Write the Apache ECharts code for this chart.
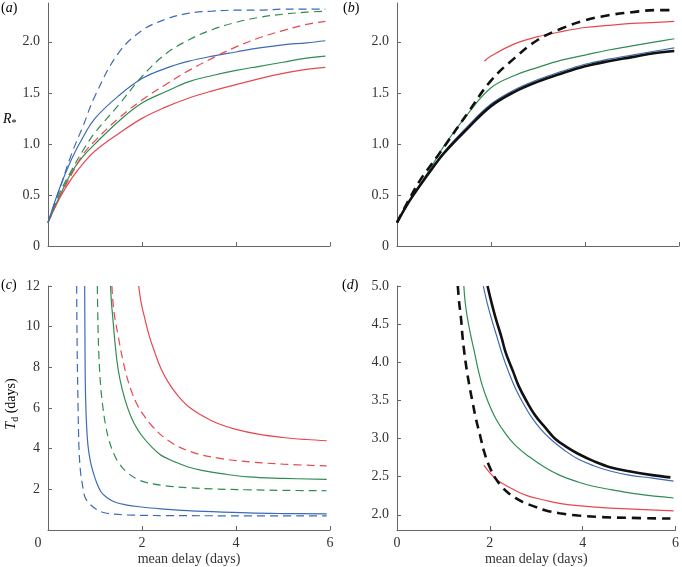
<!DOCTYPE html>
<html>
<head>
<meta charset="utf-8">
<script src="https://cdn.jsdelivr.net/npm/echarts@6/dist/echarts.min.js"></script>
<style>html,body{margin:0;padding:0;background:#fff}#c{width:682px;height:567px}</style>
</head>
<body>
<div id="c"></div>
<script>
// ---------- data ----------
// panel (a): R* vs mean delay
const aX = [0,0.25,0.5,0.75,1,1.5,2,2.5,3,3.5,4,4.5,5,5.5,5.9];
const aBlueSolid  = [0.23,0.57,0.85,1.07,1.25,1.47,1.64,1.74,1.81,1.86,1.90,1.94,1.97,1.99,2.01];
const aGreenSolid = [0.23,0.49,0.72,0.88,1.00,1.22,1.40,1.51,1.61,1.67,1.72,1.76,1.80,1.84,1.86];
const aRedSolid   = [0.23,0.47,0.66,0.81,0.93,1.10,1.25,1.36,1.45,1.52,1.58,1.64,1.69,1.73,1.75];
const aBlueDash   = [0.23,0.56,0.90,1.18,1.47,1.89,2.11,2.22,2.28,2.30,2.31,2.31,2.32,2.32,2.32];
const aGreenDash  = [0.23,0.52,0.74,0.94,1.11,1.38,1.66,1.88,2.02,2.12,2.19,2.24,2.27,2.29,2.30];
const aRedDash    = [0.23,0.48,0.70,0.90,1.03,1.25,1.43,1.58,1.72,1.84,1.95,2.04,2.11,2.17,2.20];

// panel (b)
const bX = [0,0.25,0.5,0.75,1,1.5,2,2.5,3,3.5,4,4.5,5,5.5,5.9];
const bBlackSolid = [0.23,0.43,0.60,0.76,0.91,1.15,1.37,1.51,1.61,1.69,1.76,1.81,1.85,1.89,1.91];
const bBlue       = [0.23,0.43,0.60,0.76,0.92,1.17,1.39,1.53,1.63,1.71,1.78,1.83,1.87,1.91,1.94];
const bGreen      = [0.23,0.43,0.61,0.79,0.98,1.29,1.55,1.67,1.75,1.82,1.87,1.92,1.96,2.00,2.03];
const bRedX       = [1.86,2.0,2.5,3.0,3.5,4.0,4.5,5.0,5.5,5.9];
const bRed        = [1.81,1.86,1.98,2.05,2.10,2.14,2.16,2.18,2.19,2.20];
const bBlackDash  = [0.23,0.45,0.65,0.81,0.97,1.30,1.62,1.84,2.02,2.13,2.21,2.26,2.29,2.31,2.31];

// panel (c): Td vs mean delay
const cBlueDashX  = [0.61,0.62,0.64,0.66,0.69,0.72,0.75,0.79,0.88,1.04,1.2,1.4,1.8,2.5,3.5,5.93];
const cBlueDashY  = [12,9,6,4,2.9,2.4,2.0,1.6,1.3,1.0,0.85,0.78,0.73,0.71,0.70,0.69];
const cBlueSolidX = [0.78,0.785,0.79,0.80,0.82,0.85,0.9,0.96,1.04,1.13,1.25,1.42,1.65,1.99,2.4,2.84,3.5,4.26,5.0,5.93];
const cBlueSolidY = [12,10,8,6.5,5.2,4.16,3.4,2.85,2.3,1.87,1.6,1.38,1.24,1.13,1.04,0.97,0.9,0.84,0.81,0.79];
const cGreenDashX = [1.05,1.06,1.08,1.12,1.17,1.23,1.30,1.40,1.52,1.70,1.90,2.10,2.48,2.98,3.5,4.2,5.0,5.93];
const cGreenDashY = [12,10.5,8.75,7.1,6.0,5.1,4.4,3.75,3.25,2.8,2.5,2.33,2.18,2.08,2.02,1.98,1.95,1.93];
const cGreenSolidX = [1.33,1.35,1.38,1.43,1.49,1.58,1.70,1.83,1.99,2.2,2.41,2.7,2.98,3.3,3.69,4.26,5.0,5.93];
const cGreenSolidY = [12,11.2,10.4,9.1,7.93,6.9,5.97,5.25,4.66,4.1,3.67,3.35,3.10,2.92,2.77,2.61,2.54,2.49];
const cRedDashX   = [1.36,1.40,1.49,1.58,1.67,1.78,1.91,2.05,2.2,2.55,3.05,3.69,4.3,5.0,5.93];
const cRedDashY   = [12,10.8,9.57,8.5,7.6,6.8,6.1,5.6,5.15,4.41,3.84,3.51,3.35,3.24,3.15];
const cRedSolidX  = [1.93,1.98,2.06,2.16,2.27,2.4,2.55,2.75,3.0,3.3,3.6,4.0,4.5,5.0,5.5,5.93];
const cRedSolidY  = [12,11.2,10.4,9.5,8.75,7.95,7.3,6.65,6.05,5.6,5.25,4.95,4.7,4.55,4.45,4.39];

// panel (d)
const dBlackSolidX = [1.95,2.05,2.13,2.25,2.34,2.5,2.62,2.8,2.98,3.2,3.4,3.65,3.9,4.25,4.61,5.0,5.5,5.89];
const dBlackSolidY = [5.0,4.75,4.57,4.33,4.13,3.88,3.69,3.48,3.30,3.14,3.0,2.89,2.80,2.70,2.62,2.57,2.52,2.49];
const dBlueX  = [1.86,1.95,2.06,2.16,2.27,2.4,2.55,2.72,2.91,3.1,3.33,3.6,3.9,4.25,4.61,5.0,5.5,5.96];
const dBlueY  = [5.0,4.76,4.52,4.32,4.10,3.88,3.66,3.46,3.27,3.12,2.98,2.85,2.73,2.64,2.57,2.52,2.48,2.44];
const dGreenX = [1.44,1.47,1.52,1.59,1.67,1.75,1.84,1.97,2.13,2.33,2.55,2.85,3.19,3.5,3.9,4.25,4.61,5.2,5.96];
const dGreenY = [5.0,4.78,4.57,4.35,4.13,3.90,3.69,3.47,3.26,3.07,2.91,2.76,2.62,2.52,2.43,2.37,2.33,2.27,2.22];
const dRedX   = [1.87,2.0,2.13,2.3,2.48,2.8,3.19,3.5,3.9,4.5,5.2,5.96];
const dRedY   = [2.65,2.55,2.47,2.40,2.34,2.25,2.19,2.15,2.12,2.09,2.07,2.05];
const dBlackDashX = [1.31,1.34,1.38,1.41,1.45,1.5,1.56,1.63,1.70,1.79,1.88,2.0,2.13,2.27,2.41,2.55,2.70,2.95,3.19,3.5,3.9,4.4,4.96,5.89];
const dBlackDashY = [5.0,4.78,4.57,4.35,4.13,3.91,3.69,3.47,3.26,3.04,2.82,2.62,2.47,2.36,2.28,2.22,2.17,2.11,2.06,2.02,1.99,1.97,1.96,1.95];

// tick labels
const rTicks = [0,0.5,1,1.5,2];
const tdTicks = [2,4,6,8,10,12];
const tdTicksD = [2,2.5,3,3.5,4,4.5,5];
const xTicks = [0,2,4,6];

// ---------- styling ----------
const BLUE = '#3d6bb5', GREEN = '#2f8c52', RED = '#e6484f', BLACK = '#111';
const FONT = '"Liberation Serif","DejaVu Serif",serif';
const AX = '#666';

const zip = (xs, ys) => xs.map((x, i) => [x, ys[i]]);

function line(data, gi, color, dashed, width) {
  return {
    type: 'line', xAxisIndex: gi, yAxisIndex: gi, data,
    showSymbol: false, smooth: 0.4, animation: false,
    lineStyle: { color, width: width || 1.2, type: dashed ? (width > 2 ? [9, 6] : [8, 5]) : 'solid' },
    z: width > 2 ? 3 : 2
  };
}

function xAxis(gi, showLabels, shiftZero) {
  return {
    type: 'value', gridIndex: gi, min: 0, max: 6, interval: 2,
    axisLine: { show: true, onZero: false, lineStyle: { color: AX, width: 1 } },
    axisTick: { show: true, inside: true, length: 4, lineStyle: { color: AX }, customValues: [2, 4, 6] },
    splitLine: { show: false },
    axisLabel: {
      show: showLabels, customValues: xTicks, margin: 6, color: '#333', fontFamily: FONT, fontSize: 14,
      formatter: v => (shiftZero && v === 0) ? '{z|0}' : String(v),
      rich: { z: { padding: [0, 20, 0, 0], fontFamily: FONT, fontSize: 14, color: '#333' } }
    },
    name: showLabels ? 'mean delay (days)' : '', nameLocation: 'middle', nameGap: 22,
    nameTextStyle: { color: '#333', fontFamily: FONT, fontSize: 14 }
  };
}

function yAxis(gi, min, max, ticks, fmt) {
  return {
    type: 'value', gridIndex: gi, min, max,
    axisLine: { show: true, onZero: false, lineStyle: { color: AX, width: 1 } },
    axisTick: { show: true, inside: true, length: 4, lineStyle: { color: AX }, customValues: ticks },
    splitLine: { show: false },
    axisLabel: { customValues: ticks, margin: 8, color: '#333', fontFamily: FONT, fontSize: 14, formatter: fmt }
  };
}

const fmtR = v => v === 0 ? '0' : v.toFixed(1);
const fmtInt = v => String(v);

const series = [
  line(zip(aX, aRedSolid), 0, RED, false),
  line(zip(aX, aGreenSolid), 0, GREEN, false),
  line(zip(aX, aBlueSolid), 0, BLUE, false),
  line(zip(aX, aRedDash), 0, RED, true),
  line(zip(aX, aGreenDash), 0, GREEN, true),
  line(zip(aX, aBlueDash), 0, BLUE, true),

  line(zip(bRedX, bRed), 1, RED, false),
  line(zip(bX, bGreen), 1, GREEN, false),
  line(zip(bX, bBlue), 1, BLUE, false),
  line(zip(bX, bBlackSolid), 1, BLACK, false, 2.6),
  line(zip(bX, bBlackDash), 1, BLACK, true, 2.6),

  line(zip(cRedSolidX, cRedSolidY), 2, RED, false),
  line(zip(cRedDashX, cRedDashY), 2, RED, true),
  line(zip(cGreenSolidX, cGreenSolidY), 2, GREEN, false),
  line(zip(cGreenDashX, cGreenDashY), 2, GREEN, true),
  line(zip(cBlueSolidX, cBlueSolidY), 2, BLUE, false),
  line(zip(cBlueDashX, cBlueDashY), 2, BLUE, true),

  line(zip(dRedX, dRedY), 3, RED, false),
  line(zip(dGreenX, dGreenY), 3, GREEN, false),
  line(zip(dBlueX, dBlueY), 3, BLUE, false),
  line(zip(dBlackSolidX, dBlackSolidY), 3, BLACK, false, 2.6),
  line(zip(dBlackDashX, dBlackDashY), 3, BLACK, true, 2.6)
];

const rich = {
  n: { fontFamily: FONT, fontSize: 14, color: '#333' },
  i: { fontFamily: FONT, fontSize: 14, fontStyle: 'italic', color: '#333' },
  s: { fontFamily: FONT, fontSize: 10, color: '#333', padding: [8, 0, 0, 0] }
};

function panelLabel(letter, x, y) {
  return { type: 'text', left: x, top: y, style: { text: '{n|(}{i|' + letter + '}{n|)}', rich } };
}

const option = {
  backgroundColor: '#fff',
  animation: false,
  grid: [
    { left: 48, top: 3, width: 282, height: 243 },
    { left: 397, top: 3, width: 282, height: 243 },
    { left: 48, top: 286, width: 282, height: 244 },
    { left: 397, top: 286, width: 282, height: 244 }
  ],
  xAxis: [xAxis(0, false), xAxis(1, false), xAxis(2, true, true), xAxis(3, true)],
  yAxis: [
    yAxis(0, 0, 2.38, rTicks, fmtR),
    yAxis(1, 0, 2.38, rTicks, fmtR),
    yAxis(2, 0, 12, tdTicks, fmtInt),
    yAxis(3, 1.8, 5, tdTicksD, v => v.toFixed(1))
  ],
  series,
  graphic: [
    panelLabel('a', 1, 1),
    panelLabel('b', 343, 1),
    panelLabel('c', 1, 278),
    panelLabel('d', 342, 278),
    { type: 'text', left: 3, top: 112, style: { text: '{i|R}{s|*}', rich } },
    { type: 'text', x: 11, y: 404, rotation: Math.PI / 2,
      style: { text: '{i|T}{s|d}{n| (days)}', rich, align: 'center', verticalAlign: 'middle' } }
  ]
};

const chart = echarts.init(document.getElementById('c'), null, { renderer: 'canvas' });
chart.setOption(option);
</script>
</body>
</html>
